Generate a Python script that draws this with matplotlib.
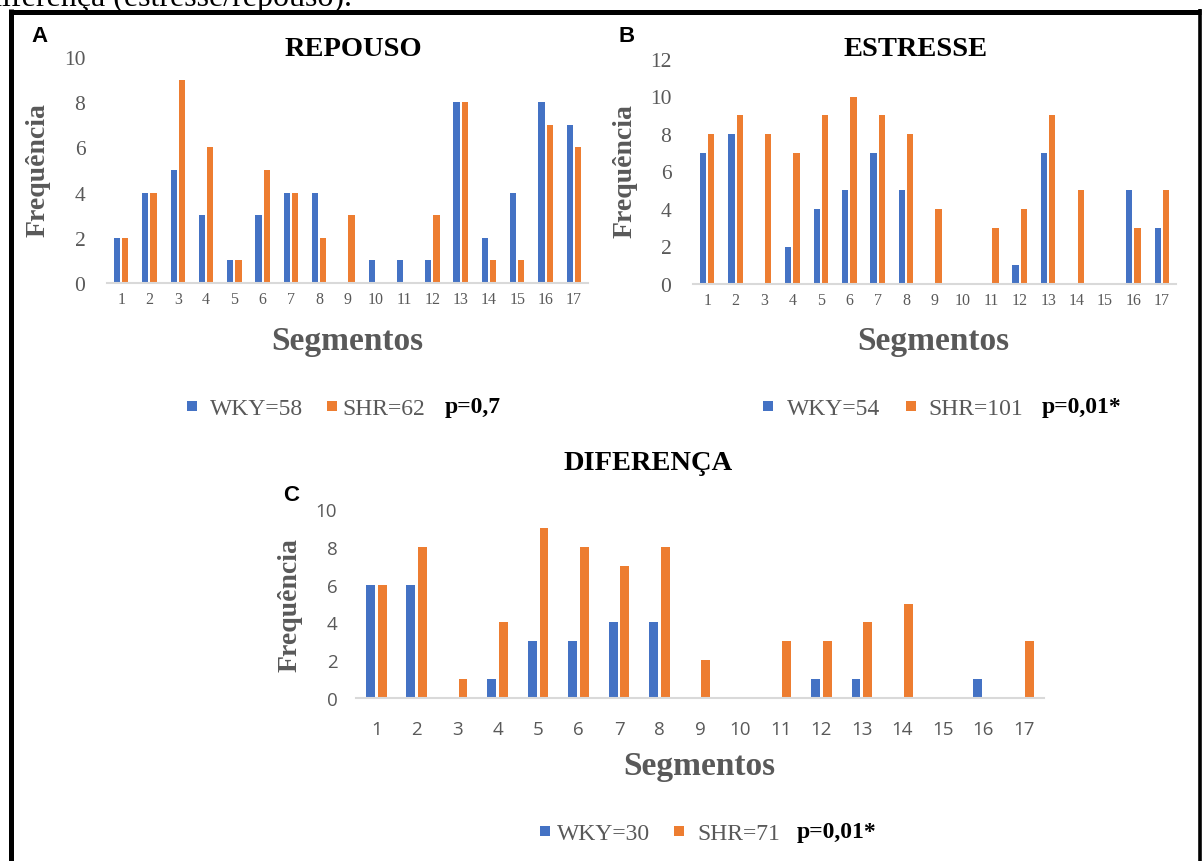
import matplotlib
matplotlib.use("Agg")
import matplotlib.pyplot as plt
from matplotlib.patches import Rectangle
from matplotlib.lines import Line2D
import numpy as np

plt.rcParams['font.family'] = ['Liberation Serif', 'DejaVu Serif']

# ---------------- data ----------------
segments = list(range(1, 18))
seg_labels = [str(s) for s in segments]

repouso_wky = [2, 4, 5, 3, 1, 3, 4, 4, 0, 1, 1, 1, 8, 2, 4, 8, 7]
repouso_shr = [2, 4, 9, 6, 1, 5, 4, 2, 3, 0, 0, 3, 8, 1, 1, 7, 6]

estresse_wky = [7, 8, 0, 2, 4, 5, 7, 5, 0, 0, 0, 1, 7, 0, 0, 5, 3]
estresse_shr = [8, 9, 8, 7, 9, 10, 9, 8, 4, 0, 3, 4, 9, 5, 0, 3, 5]

diferenca_wky = [6, 6, 0, 1, 3, 3, 4, 4, 0, 0, 0, 1, 1, 0, 0, 1, 0]
diferenca_shr = [6, 8, 1, 4, 9, 8, 7, 8, 2, 0, 3, 3, 4, 5, 0, 0, 3]

titles = ["REPOUSO", "ESTRESSE", "DIFERENÇA"]
panel_letters = ["A", "B", "C"]
legend_wky = ["WKY=58", "WKY=54", "WKY=30"]
legend_shr = ["SHR=62", "SHR=101", "SHR=71"]
pvalues = ["p=0,7", "p=0,01*", "p=0,01*"]
ymax = [10, 12, 10]

# ---------------- style ----------------
W, H = 1202, 862
BLUE = "#4472C4"
ORANGE = "#ED7D31"
GRAY = "#595959"
AXIS = "#D9D9D9"

fig = plt.figure(figsize=(W / 100, H / 100), dpi=100)


def P(x, y):
    return x / W, 1 - y / H


def ax_rect(x0, x1, ytop, ybot):
    return [x0 / W, 1 - ybot / H, (x1 - x0) / W, (ybot - ytop) / H]


def draw_panel(rect, wky, shr, top, tickfont, ticksize, ytickpad, xtickpad):
    ax = fig.add_axes(rect)
    x = np.array(segments, dtype=float)
    bw = 0.22
    off = 0.145
    ax.bar(x - off, wky, width=bw, color=BLUE, linewidth=0)
    ax.bar(x + off, shr, width=bw, color=ORANGE, linewidth=0)
    ax.set_xlim(0.5, 17.5)
    ax.set_ylim(0, top)
    ax.set_yticks(np.arange(0, top + 1, 2))
    ax.set_xticks(segments)
    ax.set_xticklabels(seg_labels)
    for s in ["top", "right", "left"]:
        ax.spines[s].set_visible(False)
    ax.spines["bottom"].set_color(AXIS)
    ax.spines["bottom"].set_linewidth(1.5)
    ax.tick_params(axis="both", length=0, colors=GRAY, labelfontfamily=tickfont)
    ax.tick_params(axis="y", pad=ytickpad, labelsize=ticksize[1])
    ax.tick_params(axis="x", pad=xtickpad, labelsize=ticksize[0])
    ax.patch.set_alpha(0)
    return ax


axA = draw_panel(ax_rect(107, 588, 58, 284), repouso_wky, repouso_shr, ymax[0],
                 'Liberation Serif', (11.5, 15.5), 15.5, 5.5)
axB = draw_panel(ax_rect(693, 1176, 60, 285), estresse_wky, estresse_shr, ymax[1],
                 'Liberation Serif', (11.5, 15.5), 15.5, 5.5)
axC = draw_panel(ax_rect(356, 1044, 510, 699), diferenca_wky, diferenca_shr, ymax[2],
                 'Open Sans', (13.5, 13.5), 13.5, 15.5)

# ---------------- titles, labels ----------------
title_pos = [(353, 50), (916, 50), (648, 464)]
letter_pos = [(40, 36), (627, 37), (291, 496)]
freq_pos = [(38, 170), (625, 171), (290, 605)]
seg_pos = [(347, 342), (933, 342), (699, 767)]

for i in range(3):
    fig.text(*P(*title_pos[i]), titles[i], ha="center", va="center",
             fontsize=20.5, fontweight="bold", color="black")
    fig.text(*P(*letter_pos[i]), panel_letters[i], ha="center", va="center",
             fontsize=16, fontweight="bold", color="black",
             family=["Liberation Sans", "DejaVu Sans"])
    fig.text(*P(*freq_pos[i]), "Frequência", ha="center", va="center", rotation=90,
             fontsize=20, fontweight="bold", color=GRAY)
    fig.text(*P(*seg_pos[i]), "Segmentos", ha="center", va="center",
             fontsize=24, fontweight="bold", color=GRAY)

# ---------------- legends ----------------
legend_y = [407, 407, 832]
sq_wky_x = [192, 768, 545]
sq_shr_x = [332, 911, 679]
txt_wky_x = [210, 787, 557]
txt_shr_x = [342, 928, 697]
p_x = [445, 1042, 797]
sq = 10

for i in range(3):
    y = legend_y[i]
    for cx, col in [(sq_wky_x[i], BLUE), (sq_shr_x[i], ORANGE)]:
        x0, y0 = P(cx - sq / 2, y + sq / 2)
        fig.patches.append(Rectangle((x0, y0), sq / W, sq / H, transform=fig.transFigure,
                                     facecolor=col, edgecolor="none"))
    fig.text(*P(txt_wky_x[i], y), legend_wky[i], ha="left", va="center_baseline",
             fontsize=17, color=GRAY)
    fig.text(*P(txt_shr_x[i], y), legend_shr[i], ha="left", va="center_baseline",
             fontsize=17, color=GRAY)
    fig.text(*P(p_x[i], y - 2), pvalues[i], ha="left", va="center_baseline",
             fontsize=17, fontweight="bold", color="black")

# ---------------- cropped caption line and frame ----------------
fig.text(*P(-14, 6), "diferença (estresse/repouso).", ha="left", va="baseline",
         fontsize=23, color="black")

lw_main = 3.6
fig.add_artist(Line2D([11 / W, 11 / W], [0, 1 - 10 / H], transform=fig.transFigure,
                      color="black", linewidth=lw_main, solid_capstyle="butt"))
fig.add_artist(Line2D([8.5 / W, 1201 / W], [1 - 12.5 / H, 1 - 12.5 / H], transform=fig.transFigure,
                      color="black", linewidth=lw_main, solid_capstyle="butt"))
fig.add_artist(Line2D([1199.5 / W, 1199.5 / W], [0, 1 - 10 / H], transform=fig.transFigure,
                      color="black", linewidth=2.6, solid_capstyle="butt"))

fig.savefig("out.png", dpi=100, facecolor="white")
